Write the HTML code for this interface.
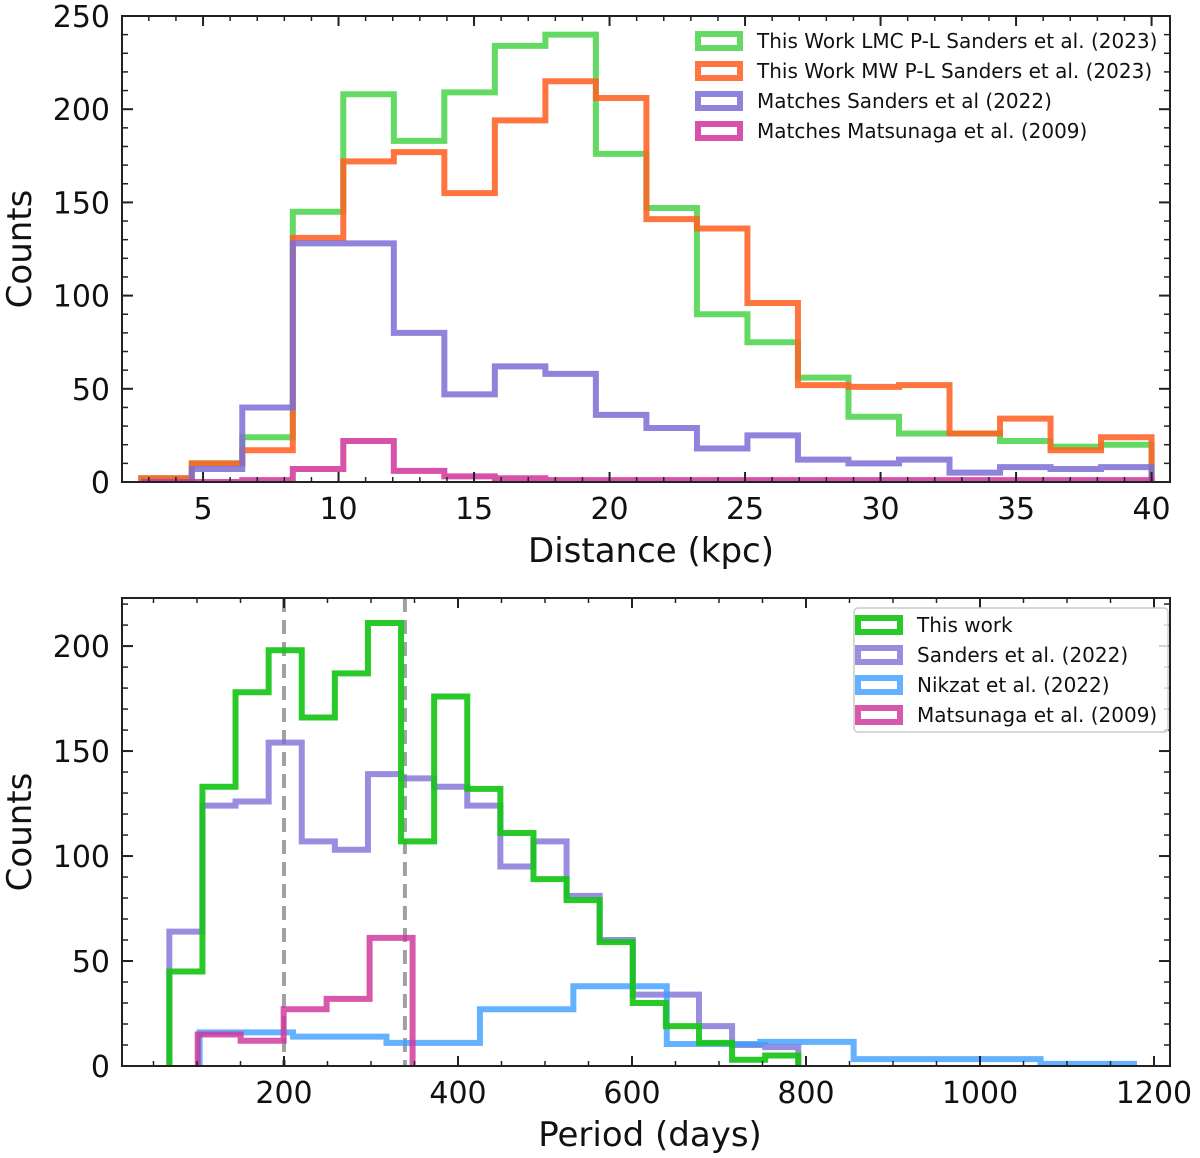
<!DOCTYPE html>
<html><head><meta charset="utf-8"><style>
html,body{margin:0;padding:0;background:#fff;}
svg{display:block;font-family:"DejaVu Sans","Liberation Sans",sans-serif;}
</style></head><body>
<svg id="chart" width="1200" height="1158" viewBox="0 0 1200 1158" xmlns="http://www.w3.org/2000/svg"></svg>
<script>
// ---------- Top panel data (distance, kpc) ----------
const topBinStart = 2.72;
const topBinWidth = 1.864;
const topLMC = [2,10,24,145,208,183,209,234,240,176,147,90,75,56,35,26,26,22,19,20];
const topMW = [2,10,17,131,172,177,155,194,215,206,141,136,96,52,51,52,26,34,17,24];
const topSanders = [0,7,40,128,128,80,47,62,58,36,29,18,25,12,10,12,5,8,7,8];
const topMatsunaga = [0,0,1,7,22,6,3,2,1,1,1,1,1,1,1,1,1,1,1,1];
const topXTicks = [5,10,15,20,25,30,35,40];
const topYTicks = [0,50,100,150,200,250];
const topLegendLabels = ["This Work LMC P-L Sanders et al. (2023)","This Work MW P-L Sanders et al. (2023)","Matches Sanders et al (2022)","Matches Matsunaga et al. (2009)"];

// ---------- Bottom panel data (period, days) ----------
const botBinStart = 68.2;
const botBinWidth = 38.05;
const botThisWork = [45,133,178,198,166,187,211,107,176,132,111,89,79,59,30,19,11,3,5];
const botSanders = [64,124,126,154,107,103,139,137,133,124,95,107,81,60,34,34,19,10,9];
const nikBinStart = 103;
const nikBinWidth = 107.4;
const botNikzat = [16,14,11,27,38,10.5,11.5,3.3,3.3,1];
const matBinStart = 100.8;
const matBinWidth = 49.4;
const botMatsunaga = [15,12,27,32,61];
const dashedLines = [200,339];
const botXTicks = [200,400,600,800,1000,1200];
const botYTicks = [0,50,100,150,200];
const botLegendLabels = ["This work","Sanders et al. (2022)","Nikzat et al. (2022)","Matsunaga et al. (2009)"];

const NS = "http://www.w3.org/2000/svg";
const svg = document.getElementById('chart');
function mk(tag, attrs, parent){
  const e = document.createElementNS(NS, tag);
  for (const k in attrs) e.setAttribute(k, attrs[k]);
  (parent||svg).appendChild(e);
  return e;
}

function panel(cfg){
  const g = mk('g', {});
  
  
  const L=cfg.left, R=cfg.right, T=cfg.top, B=cfg.bottom;
  const sx = v => L + (v-cfg.xmin)/(cfg.xmax-cfg.xmin)*(R-L);
  const sy = v => B - (v-cfg.ymin)/(cfg.ymax-cfg.ymin)*(B-T);
  const clip = mk('clipPath', {id: cfg.name+'-clip'}, g);
  mk('rect', {x:L, y:T, width:R-L, height:B-T}, clip);
  const plot = mk('g', {'clip-path':'url(#'+cfg.name+'-clip)'}, g);

  (cfg.dashes||[]).forEach(d=>{
    const ln = mk('line', {x1:sx(d), x2:sx(d), y1:T, y2:B, stroke:'#8a8a8a', 'stroke-width':4, 'stroke-dasharray':'14,8', opacity:0.8}, plot);
    
    
  });

  const drawOrder = cfg.drawOrder || cfg.series.map((_,i)=>i);
  drawOrder.forEach(idx=>{
    const s = cfg.series[idx];
    let d = 'M'+sx(s.start)+','+sy(0);
    s.values.forEach((v,i)=>{
      const xa = sx(s.start + i*s.width), xb = sx(s.start+(i+1)*s.width);
      d += ' L'+xa+','+sy(v)+' L'+xb+','+sy(v);
    });
    d += ' L'+sx(s.start + s.values.length*s.width)+','+sy(0);
    const p = mk('path', {d:d, fill:'none', stroke:s.color, 'stroke-width':6, 'stroke-opacity':s.alpha, 'stroke-linejoin':'miter'}, plot);
    
    
  });

  const fr = mk('rect', {x:L, y:T, width:R-L, height:B-T, fill:'none', stroke:'#222', 'stroke-width':2}, g);
  
  

  for (let v=Math.ceil(cfg.xmin/cfg.xminor)*cfg.xminor; v<=cfg.xmax; v+=cfg.xminor){
    const x=sx(v);
    mk('line',{x1:x,x2:x,y1:B,y2:B-5,stroke:'#222','stroke-width':1.5},g);
    mk('line',{x1:x,x2:x,y1:T,y2:T+5,stroke:'#222','stroke-width':1.5},g);
  }
  for (let v=cfg.ymin; v<=cfg.ymax+0.01; v+=cfg.yminor){
    const y=sy(v);
    mk('line',{x1:L,x2:L+6,y1:y,y2:y,stroke:'#222','stroke-width':1.5},g);
    mk('line',{x1:R,x2:R-6,y1:y,y2:y,stroke:'#222','stroke-width':1.5},g);
  }
  cfg.xticks.forEach(v=>{
    const x=sx(v);
    mk('line',{x1:x,x2:x,y1:B,y2:B-10,stroke:'#222','stroke-width':2},g);
    mk('line',{x1:x,x2:x,y1:T,y2:T+10,stroke:'#222','stroke-width':2},g);
    const t = mk('text',{x:x,y:B+37,'text-anchor':'middle','font-size':30,fill:'#111'},g);
    t.textContent = v;
    
    
  });
  cfg.yticks.forEach(v=>{
    const y=sy(v);
    mk('line',{x1:L,x2:L+11,y1:y,y2:y,stroke:'#222','stroke-width':2},g);
    mk('line',{x1:R,x2:R-11,y1:y,y2:y,stroke:'#222','stroke-width':2},g);
    const t = mk('text',{x:L-12,y:y+11,'text-anchor':'end','font-size':30,fill:'#111'},g);
    t.textContent = v;
    
    
  });
  const xl = mk('text',{x:(L+R)/2 + cfg.xlabelDx,y:B+80,'text-anchor':'middle','font-size':34,fill:'#111'},g);
  xl.textContent = cfg.xlabel;
  
  
  const yl = mk('text',{x:0,y:0,'text-anchor':'middle','font-size':34,fill:'#111',transform:'translate(31,'+((T+B)/2)+') rotate(-90)'},g);
  yl.textContent = 'Counts';
  
  

  const lg = mk('g',{},g);
  
  
  const lc = cfg.legend;
  if (lc.box) mk('rect',{x:lc.box[0],y:lc.box[1],width:lc.box[2],height:lc.box[3],rx:4,fill:'#fff','fill-opacity':0.8,stroke:'#ccc','stroke-width':1.5},lg);
  lc.labels.forEach((lab,i)=>{
    const s = cfg.series[lc.order[i]];
    const y = lc.y0 + i*lc.dy;
    const e = mk('g',{},lg);
    
    
    mk('rect',{x:lc.x+3,y:y-7,width:42,height:14,fill:'#fff',stroke:s.color,'stroke-width':6,'stroke-opacity':s.alpha},e);
    const t = mk('text',{x:lc.x+62,y:y+7,'font-size':20,fill:'#111'},e);
    t.textContent = lab;
  });
}

panel({
  name:'distance-panel', left:122, right:1170, top:16, bottom:482,
  xmin:2.01, xmax:40.68, ymin:0, ymax:250, xminor:1, yminor:10,
  xticks:topXTicks, yticks:topYTicks, xlabel:'Distance (kpc)', xlabelDx:5,
  series:[
    {key:'lmc-pl-series', start:topBinStart, width:topBinWidth, values:topLMC, color:'#4fd44f', alpha:0.88},
    {key:'mw-pl-series', start:topBinStart, width:topBinWidth, values:topMW, color:'#ff6225', alpha:0.88},
    {key:'sanders-matches-series', start:topBinStart, width:topBinWidth, values:topSanders, color:'#7b6dd6', alpha:0.85},
    {key:'matsunaga-matches-series', start:topBinStart, width:topBinWidth, values:topMatsunaga, color:'#d0359a', alpha:0.85}
  ],
  legend:{x:695, y0:41, dy:30, labels:topLegendLabels, order:[0,1,2,3]}
});

panel({
  name:'period-panel', left:122, right:1170, top:598, bottom:1066,
  xmin:13.8, xmax:1218.4, ymin:0, ymax:222.9, xminor:50, yminor:10,
  xticks:botXTicks, yticks:botYTicks, xlabel:'Period (days)', xlabelDx:4,
  dashes:dashedLines,
  drawOrder:[1,2,3,0],
  series:[
    {key:'this-work-series', start:botBinStart, width:botBinWidth, values:botThisWork, color:'#18c418', alpha:0.92},
    {key:'sanders-series', start:botBinStart, width:botBinWidth, values:botSanders, color:'#7b6dd6', alpha:0.78},
    {key:'nikzat-series', start:nikBinStart, width:nikBinWidth, values:botNikzat, color:'#3d9dff', alpha:0.8},
    {key:'matsunaga-series', start:matBinStart, width:matBinWidth, values:botMatsunaga, color:'#d0359a', alpha:0.82}
  ],
  legend:{x:855, y0:625, dy:30, labels:botLegendLabels, order:[0,1,2,3], box:[854,608,314,124]}
});
</script>
</body></html>
